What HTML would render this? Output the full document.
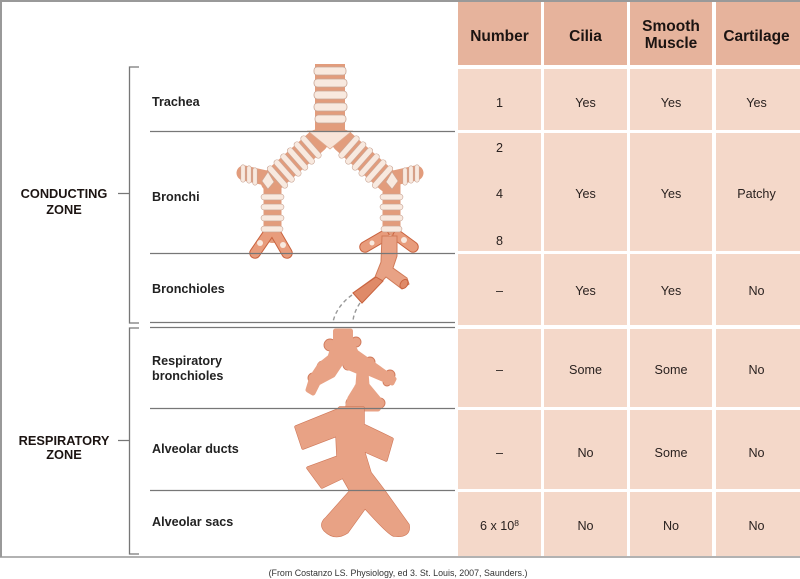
<!DOCTYPE html>
<html lang="en">
<head>
<meta charset="utf-8">
<title>Conducting and respiratory zones</title>
<style>
html,body{margin:0;padding:0;background:#fff;width:800px;height:579px;overflow:hidden}
svg{display:block}
text{font-family:"Liberation Sans",sans-serif;fill:#1c1412}
.h{font-size:15.5px;font-weight:700;text-anchor:middle}
.c{font-size:12.6px;text-anchor:middle;fill:#2a2220}
.l{font-size:12.6px;font-weight:700;fill:#222}
.z{font-size:12.8px;font-weight:700;text-anchor:middle}
</style>
</head>
<body>
<svg width="800" height="579" viewBox="0 0 800 579" xmlns="http://www.w3.org/2000/svg">
<defs>
<path id="sac" d="M340 408H363V425L392 439L386 460L363 450L370 473L383 490L408 525Q410 537 394 535Q390 535 365 507L347 532Q335 540 325 530Q320 524 327 518L351 491L343 477L322 487L308 468L338 457L337 435L303 448L296 427L338 410Z"/>
<path id="resp" d="M335.500 331H350.500V340L356 352L394 379L392 383L366 372L367 385L382 403L378 409H347L350 398L358 385L359 372L347 367L343 360L333 375L318 383L313 393L308 390L312 377L320 365L330 357L335.500 340Z"/>
<path id="rings" d="M303.700 138.700L318.300 155.300M297 144.700L311.600 161.300M290.300 150.700L304.900 167.300M283.600 156.700L298.200 173.300M276.900 162.700L291.500 179.300M270.200 168.700L284.800 185.300M356.300 138.700L341.700 155.300M363 144.700L348.400 161.300M369.700 150.700L355.100 167.300M376.400 156.700L361.800 173.300M383.100 162.700L368.500 179.300M389.800 168.700L375.200 185.300M264 197H281M264 207H281M264 218H281M264 229H280M383 197H400M383 207H400M383 218H400M384 229H399"/>
<path id="lobar" d="M243 167V180M249 168V181M255 170V183M417 167V180M411 168V181M405 170V183"/>
</defs>
<rect x="0" y="0" width="800" height="579" fill="#fff"/>
<!-- frame -->
<path d="M1 557V1H800" fill="none" stroke="#999" stroke-width="2"/>
<path d="M0 557H800" stroke="#999" stroke-width="1.5"/>
<!-- table header -->
<g fill="#e6b39c">
<rect x="458" y="2" width="83" height="63"/>
<rect x="544" y="2" width="83" height="63"/>
<rect x="630" y="2" width="82" height="63"/>
<rect x="716" y="2" width="84" height="63"/>
</g>
<!-- table body -->
<g fill="#f4d8c9">
<rect x="458" y="69" width="83" height="487"/>
<rect x="544" y="69" width="83" height="487"/>
<rect x="630" y="69" width="82" height="487"/>
<rect x="716" y="69" width="84" height="487"/>
</g>
<g fill="#fff">
<rect x="458" y="130" width="342" height="3"/>
<rect x="458" y="251" width="342" height="3"/>
<rect x="458" y="325" width="342" height="4"/>
<rect x="458" y="407" width="342" height="3"/>
<rect x="458" y="489" width="342" height="3"/>
</g>
<!-- brackets -->
<g stroke="#777" stroke-width="1.3" fill="none">
<path d="M139 67H129.500V323H139M139 328H129.500V554H139M118 193.500H129M118 440.500H129"/>
</g>
<!-- trachea -->
<rect x="315" y="64" width="30" height="68" fill="#e29c7c"/>
<g fill="#f8e9df" stroke="#c9a595" stroke-width=".8">
<rect x="314" y="67" width="32" height="8" rx="3"/>
<rect x="314" y="79" width="33" height="8" rx="3.500"/>
<rect x="314" y="91" width="33" height="8" rx="3.500"/>
<rect x="314" y="103" width="33" height="8" rx="3.500"/>
<rect x="315" y="115" width="31" height="8" rx="3.500"/>
</g>
<!-- bronchial tree base -->
<g fill="none" stroke="#e29c7c" stroke-linecap="round">
<path d="M317 141L272 181M343 141L388 181" stroke-width="23"/>
<path d="M244 173L266 178M416 173L394 178" stroke-width="15"/>
<path d="M272.500 180V234M391.500 180V234" stroke-width="18"/>
</g>
<!-- lower bronchi -->
<g fill="none" stroke="#c9633f" stroke-width="11.500" stroke-linecap="round">
<path d="M268 234L255 253M276 234L287 253M384 236L365 247M398 236L413 247"/>
</g>
<g fill="none" stroke="#e89c7c" stroke-width="9.500" stroke-linecap="round">
<path d="M268 234L255 253M276 234L287 253M384 236L365 247M398 236L413 247"/>
</g>
<!-- bronchial rings -->
<g fill="none" stroke-linecap="round">
<use href="#rings" stroke="#c9a595" stroke-width="6.500"/>
<use href="#rings" stroke="#f8e9df" stroke-width="5.300"/>
<use href="#lobar" stroke="#c9a595" stroke-width="5"/>
<use href="#lobar" stroke="#f8e9df" stroke-width="3.800"/>
</g>
<path d="M308 131H352L330 149Z" fill="#f8e4d8" stroke="#dca98f" stroke-width=".8"/>
<path d="M268 172L274 182L268 189L262 181ZM392 172L386 182L392 189L398 181Z" fill="#f8e9df" stroke="#c9a595" stroke-width=".6"/>
<g fill="#f8e9df"><circle cx="260" cy="243" r="3"/><circle cx="283" cy="245" r="3"/><circle cx="372" cy="243" r="2.500"/><circle cx="390" cy="238" r="3"/><circle cx="404" cy="240" r="3"/></g>
<!-- bronchiole -->
<path d="M382 236H397V256L393 268L407 278L409 284L402 289L386 277L362 303L353 293L375 277L381 262Z" fill="#e8a285" stroke="#d07a58" stroke-width="1"/>
<path d="M376 277L383 281L362 303L353 293Z" fill="#df8a68" stroke="#c9633f" stroke-width="1"/>
<ellipse cx="404" cy="284" rx="3.500" ry="5" transform="rotate(35 404 284)" fill="#df8a68" stroke="#c9633f" stroke-width="1"/>
<path d="M352 295C342 302 335 312 333 322M360 303C356 309 353 316 353 322" fill="none" stroke="#999" stroke-width="1.400" stroke-dasharray="4 3"/>
<!-- respiratory bronchioles with lobes -->
<g fill="#e8a285" stroke="#cf7859" stroke-width=".9">
<circle cx="330" cy="345" r="6"/><circle cx="356" cy="342" r="5"/><circle cx="323" cy="367" r="6"/><circle cx="332" cy="370" r="5"/>
<circle cx="313" cy="378" r="5"/><circle cx="348" cy="365" r="5"/><circle cx="370" cy="362" r="5"/><circle cx="390" cy="375" r="5"/>
<circle cx="387" cy="382" r="4"/><circle cx="359" cy="387" r="4"/><circle cx="352" cy="403" r="6"/><circle cx="380" cy="403" r="5"/>
</g>
<use href="#resp" fill="#e8a285" stroke="#e8a285" stroke-width="5" stroke-linejoin="round"/>
<path d="M150 322.500H455M150 327.500H455" stroke="#777" stroke-width="1.300" fill="none"/>
<!-- alveolar ducts and sacs -->
<use href="#sac" fill="none" stroke="#cf7859" stroke-width="3.400" stroke-linejoin="round"/>
<use href="#sac" fill="#e8a285" stroke="#e8a285" stroke-width="2.200" stroke-linejoin="round"/>
<path d="M150 408.500H455M150 490.500H455M150 131.500H455M150 253.500H455" stroke="#777" stroke-width="1.300" fill="none"/>
<!-- left labels -->
<text class="z" x="64" y="198">CONDUCTING</text>
<text class="z" x="64" y="214">ZONE</text>
<text class="z" x="64" y="445">RESPIRATORY</text>
<text class="z" x="64" y="459">ZONE</text>
<text class="l" x="152" y="106">Trachea</text>
<text class="l" x="152" y="201">Bronchi</text>
<text class="l" x="152" y="293">Bronchioles</text>
<text class="l" x="152" y="365">Respiratory</text>
<text class="l" x="152" y="380">bronchioles</text>
<text class="l" x="152" y="453">Alveolar ducts</text>
<text class="l" x="152" y="526">Alveolar sacs</text>
<!-- header text -->
<text class="h" x="499.500" y="41">Number</text>
<text class="h" x="585.500" y="41">Cilia</text>
<text class="h" x="671" y="31">Smooth</text>
<text class="h" x="671" y="48">Muscle</text>
<text class="h" x="756.500" y="41">Cartilage</text>
<!-- cells -->
<text class="c" x="499.500" y="107">1</text>
<text class="c" x="585.500" y="107">Yes</text>
<text class="c" x="671" y="107">Yes</text>
<text class="c" x="756.500" y="107">Yes</text>
<text class="c" x="499.500" y="152">2</text>
<text class="c" x="499.500" y="198">4</text>
<text class="c" x="499.500" y="245">8</text>
<text class="c" x="585.500" y="198">Yes</text>
<text class="c" x="671" y="198">Yes</text>
<text class="c" x="756.500" y="198">Patchy</text>
<text class="c" x="499.500" y="295">–</text>
<text class="c" x="585.500" y="295">Yes</text>
<text class="c" x="671" y="295">Yes</text>
<text class="c" x="756.500" y="295">No</text>
<text class="c" x="499.500" y="374">–</text>
<text class="c" x="585.500" y="374">Some</text>
<text class="c" x="671" y="374">Some</text>
<text class="c" x="756.500" y="374">No</text>
<text class="c" x="499.500" y="457">–</text>
<text class="c" x="585.500" y="457">No</text>
<text class="c" x="671" y="457">Some</text>
<text class="c" x="756.500" y="457">No</text>
<text class="c" x="499.500" y="530">6 x 10<tspan font-size="8.500" dy="-4">8</tspan></text>
<text class="c" x="585.500" y="530">No</text>
<text class="c" x="671" y="530">No</text>
<text class="c" x="756.500" y="530">No</text>
<!-- footer -->
<text x="398" y="576" font-size="8.900" text-anchor="middle" style="fill:#333">(From Costanzo LS. Physiology, ed 3. St. Louis, 2007, Saunders.)</text>
</svg>
</body>
</html>
